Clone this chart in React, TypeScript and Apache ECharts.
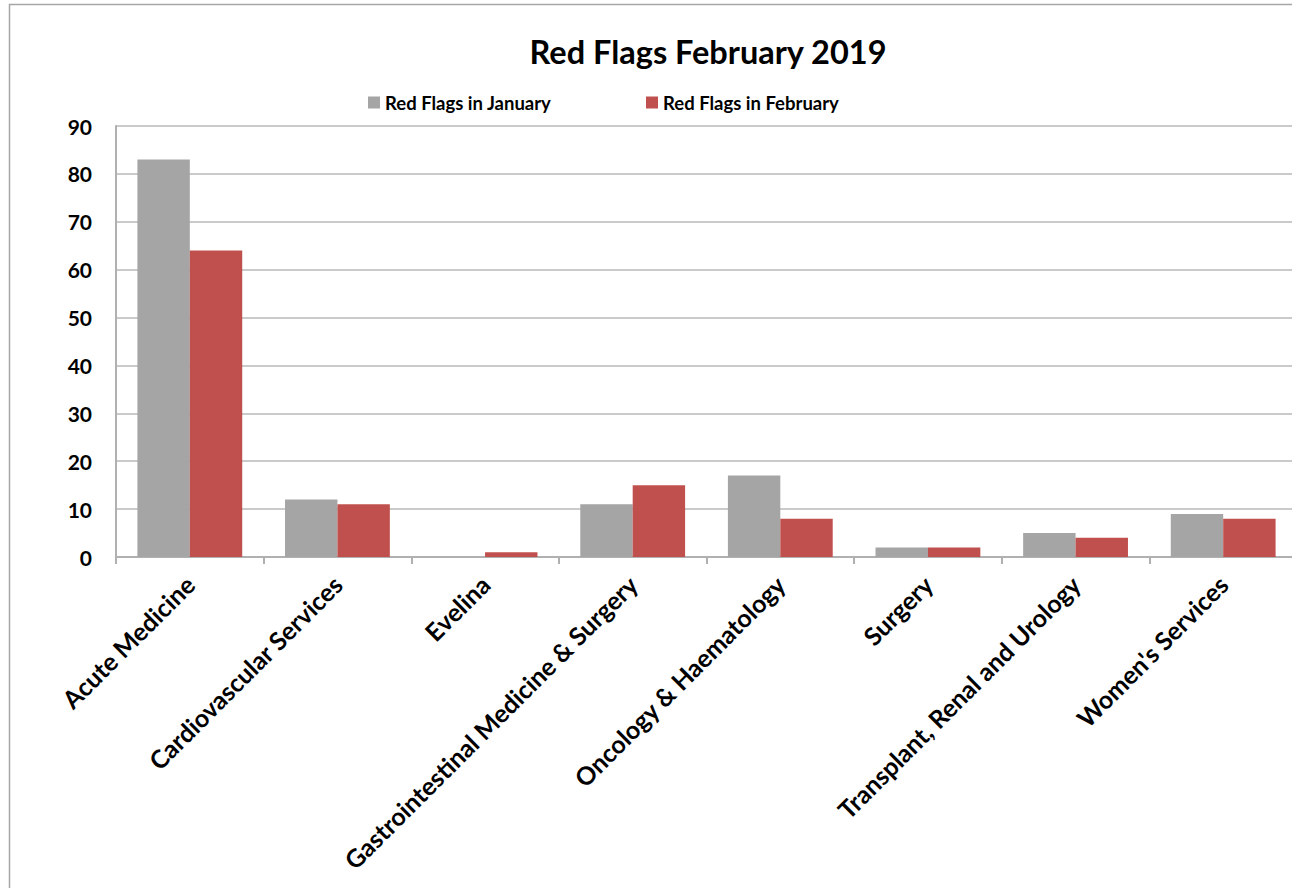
import React, { useEffect, useRef } from "react";
import * as echarts from "echarts";

const categories = [
  "Acute Medicine",
  "Cardiovascular Services",
  "Evelina",
  "Gastrointestinal Medicine & Surgery",
  "Oncology & Haematology",
  "Surgery",
  "Transplant, Renal and Urology",
  "Women's Services",
];
const januaryValues = [83, 12, 0, 11, 17, 2, 5, 9];
const februaryValues = [64, 11, 1, 15, 8, 2, 4, 8];
const seriesNames = ["Red Flags in January", "Red Flags in February"];
const titleText = "Red Flags February 2019";

const FONT = "Lato, 'Noto Sans', sans-serif";

export default function App() {
  const ref = useRef<HTMLDivElement>(null);
  useEffect(() => {
    if (!ref.current) return;
    const chart = echarts.init(ref.current, undefined, { renderer: "svg" });
    chart.setOption({
      animation: false,
      backgroundColor: "#ffffff",
      textStyle: { fontFamily: FONT },
      graphic: [
        {
          type: "rect",
          shape: { x: 9.5, y: 4.5, width: 1400, height: 1000 },
          style: { fill: "none", stroke: "#a6a6a6", lineWidth: 1.5 },
          silent: true,
        },
        {
          type: "text",
          x: 708,
          y: 51,
          style: {
            text: titleText,
            fontFamily: FONT,
            fontSize: 32.5,
            fontWeight: "bold",
            fill: "#000",
            align: "center",
            verticalAlign: "middle",
          },
          silent: true,
        },
      ],
      legend: [
        {
          data: [seriesNames[0]],
          left: 368,
          top: 93,
          padding: 0,
          icon: "rect",
          itemWidth: 12,
          itemHeight: 12,
          textStyle: { fontFamily: FONT, fontSize: 18.5, fontWeight: "bold", color: "#000" },
        },
        {
          data: [seriesNames[1]],
          left: 646,
          top: 93,
          padding: 0,
          icon: "rect",
          itemWidth: 12,
          itemHeight: 12,
          textStyle: { fontFamily: FONT, fontSize: 18.5, fontWeight: "bold", color: "#000" },
        },
      ],
      grid: { left: 116, top: 126, right: 4, bottom: 331, containLabel: false },
      xAxis: {
        type: "category",
        data: categories,
        axisLine: { show: true, lineStyle: { color: "#b0b0b0", width: 2 } },
        axisTick: { show: true, length: 7, lineStyle: { color: "#b0b0b0", width: 2 } },
        axisLabel: {
          interval: 0,
          rotate: 45,
          margin: 23,
          fontFamily: FONT,
          fontSize: 25,
          fontWeight: "bold",
          color: "#000",
        },
      },
      yAxis: {
        type: "value",
        min: 0,
        max: 90,
        interval: 10,
        axisLine: { show: true, lineStyle: { color: "#b0b0b0", width: 2 } },
        axisTick: { show: false },
        splitLine: { show: true, lineStyle: { color: "#b8b8b8", width: 1.5 } },
        axisLabel: {
          margin: 24,
          fontFamily: FONT,
          fontSize: 21,
          fontWeight: "bold",
          color: "#000",
        },
      },
      series: [
        {
          name: seriesNames[0],
          type: "bar",
          data: januaryValues,
          barGap: "0%",
          barCategoryGap: "29%",
          itemStyle: { color: "#a5a5a5" },
        },
        {
          name: seriesNames[1],
          type: "bar",
          data: februaryValues,
          barGap: "0%",
          barCategoryGap: "29%",
          itemStyle: { color: "#c0504d" },
        },
      ],
    });
    return () => chart.dispose();
  }, []);
  return (
    <div
      style={{ position: "fixed", left: 0, top: 0, width: 1292, height: 888, overflow: "hidden", background: "#fff" }}
    >
      <div ref={ref} style={{ width: 1300.6, height: 888 }} />
    </div>
  );
}
